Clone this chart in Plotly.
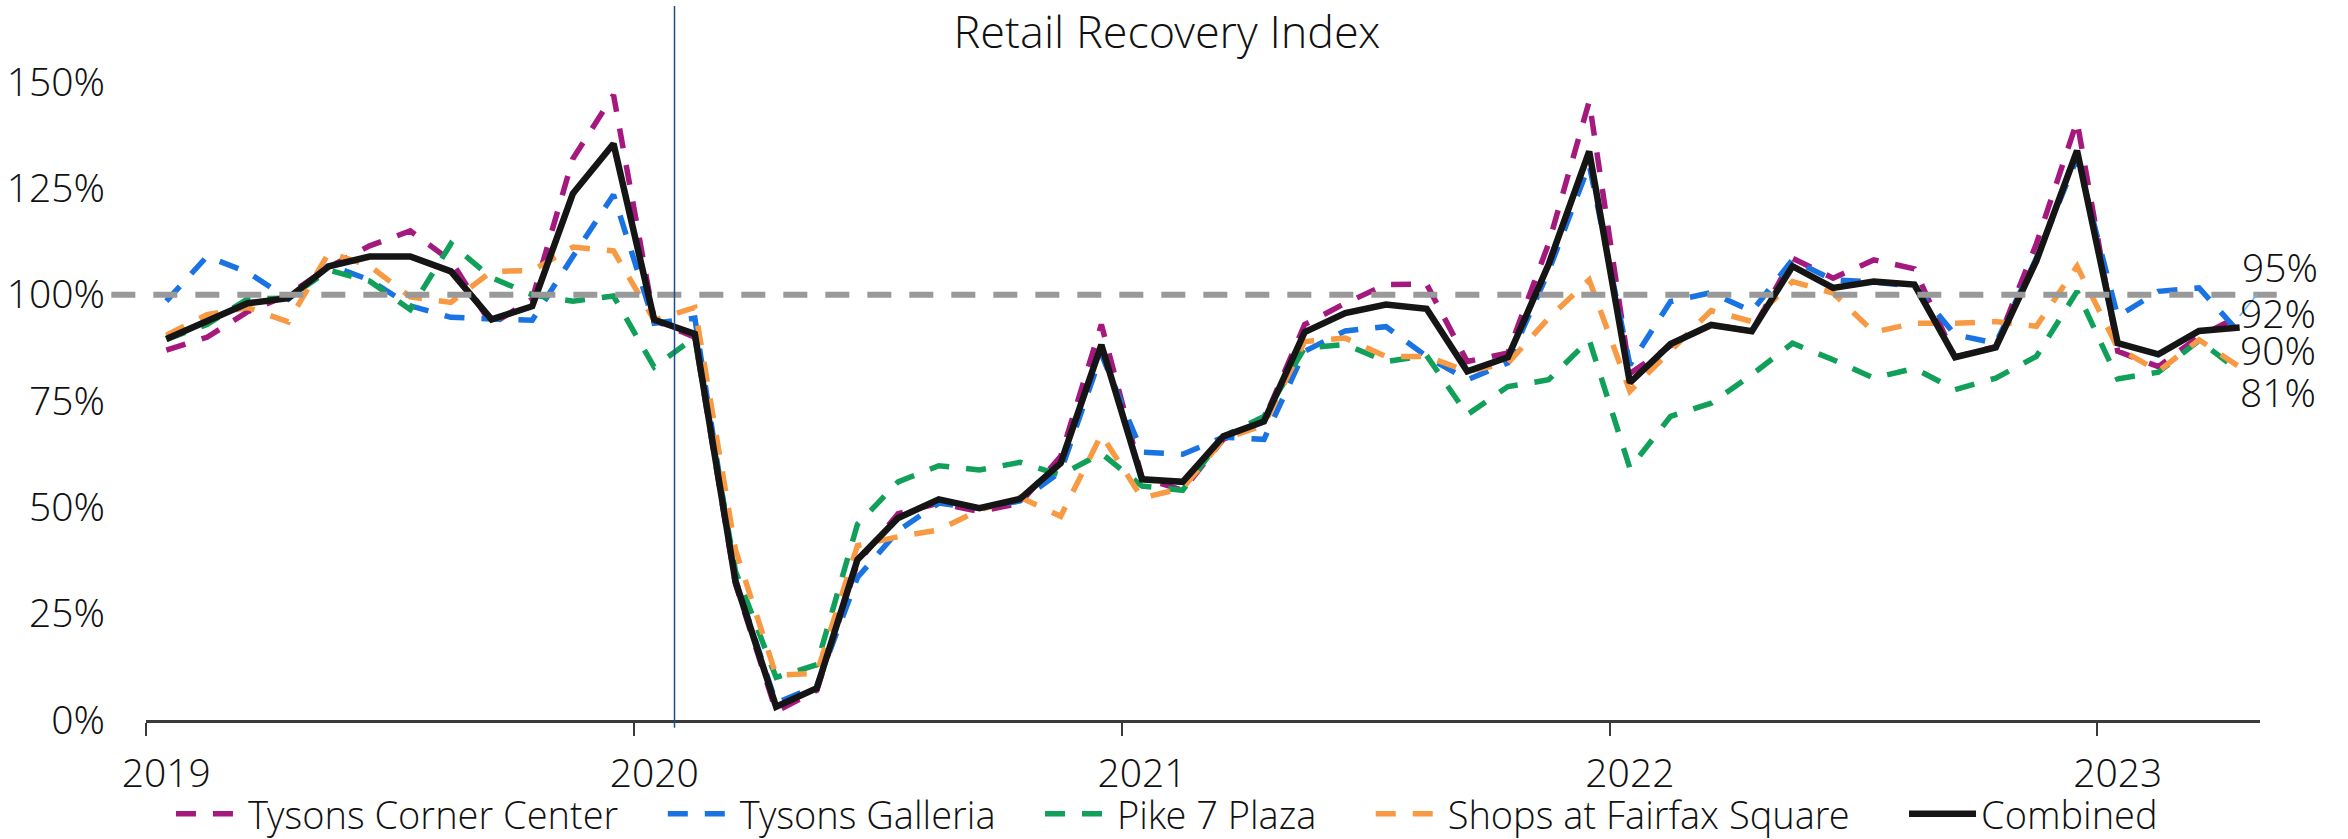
import plotly.graph_objects as go

# ---------------- data (monthly, Jan 2019 .. Apr 2023) ----------------
year_labels = ["2019", "2020", "2021", "2022", "2023"]

tysons_corner = [87, 90, 96, 100, 106.5, 111.5, 115, 108, 93, 99, 132, 147,
                 94, 90, 32, 2, 7, 37, 48.5, 51, 49, 51, 62, 93,
                 57, 54, 66, 70.5, 93, 98, 102.4, 102.5, 84.3, 86.3, 112, 145.5,
                 81.5, 88, 93, 91.4, 108.6, 103.9, 108.2, 106.1, 85.3, 87.8, 112, 140.8,
                 86.7, 83.1, 90.2, 95]
tysons_galleria = [98.5, 109, 105.3, 99, 107, 103.5, 97.4, 94.7, 94.3, 94, 109, 123.5,
                   93.3, 94.5, 33, 4, 8, 33.5, 44.5, 51, 49.8, 51.5, 58.4, 86,
                   63, 62.5, 66.5, 66, 86.7, 91.5, 92.5, 85.5, 80, 84, 105.5, 130.6,
                   83.5, 98.4, 100.5, 96.1, 108.2, 103.5, 103, 102, 90.6, 88.6, 108.6, 132.2,
                   94.9, 100.8, 101.6, 91]
pike7_plaza = [89.5, 93, 99, 99.2, 105.8, 103.2, 96.5, 112, 104, 100, 98.5, 99.7,
               83, 90, 35, 10, 13, 46, 56, 59.8, 58.8, 60.6, 57.6, 62.7,
               55, 54, 66.7, 71.4, 87.5, 88.3, 84.3, 85.7, 71.8, 78.4, 80, 89.4,
               59.2, 71.4, 74.5, 81.2, 88.6, 84.7, 80.4, 82.7, 77.7, 80.4, 85.5, 100.8,
               80.2, 81.8, 89.2, 82]
fairfax_square = [90.5, 95.3, 97, 93.6, 109.9, 106.8, 99.5, 98.2, 105.5, 105.7, 111.2, 110.3,
                  94, 97, 40, 10.5, 11, 41, 43.1, 44.7, 49.4, 52.4, 47.9, 67.1,
                  52.2, 54.5, 66, 69.4, 89, 89.8, 85.5, 85.5, 82, 83.9, 94.5, 103.5,
                  77.3, 87, 96.3, 93.7, 103.1, 100.4, 91.2, 93.3, 93.3, 93.7, 92.6, 106.7,
                  87.5, 82, 89.4, 83]
combined = [89.6, 93.9, 98, 99.2, 106.7, 109, 109, 105.5, 94.2, 97.3, 123.8, 135.5,
            94.1, 90.8, 32.6, 3.1, 7.5, 37.7, 47.5, 51.9, 49.8, 52, 60.4, 88.2,
            56.6, 56, 66.7, 70.2, 91.2, 95.7, 97.7, 96.7, 82, 85.3, 107.1, 133.7,
            79.3, 88.4, 92.9, 91.4, 106.7, 101.6, 103.1, 102.4, 85.3, 87.6, 108, 133.9,
            88.6, 86, 91.5, 92.3]

end_labels = ["95%", "92%", "90%", "81%"]   # data labels shown at the right edge
baseline_value = 1.0                         # 100% reference line
event_month = 12.5                           # vertical marker (between Jan & Feb 2020)

series = [
    ("Tysons Corner Center", tysons_corner, "#A5197F", "dash"),
    ("Tysons Galleria", tysons_galleria, "#1A73E3", "dash"),
    ("Pike 7 Plaza", pike7_plaza, "#10A05A", "dash"),
    ("Shops at Fairfax Square", fairfax_square, "#F89A44", "dash"),
    ("Combined", combined, "#151515", "solid"),
]

n = len(combined)
x = list(range(n))
FONT = "Open Sans Light, Open Sans"
TXT = "#111111"
FS = 39
GAPS = ["\u00a0" * 4, "\u00a0" * 4, "\u00a0" * 5, "\u00a0" * 5, ""]   # spacing between legend entries

fig = go.Figure()
for k, (name, vals, color, dash) in enumerate(series):
    fig.add_trace(go.Scatter(
        x=x, y=[v / 100 for v in vals],
        name=name + GAPS[k], mode="lines",
        line=dict(color=color, width=6.5 if dash == "solid" else 5.5,
                  dash="20px,17px" if dash == "dash" else "solid"),
    ))

# 100% reference line
fig.add_shape(type="line", xref="paper", yref="y", x0=-0.0164, x1=1.0079,
              y0=baseline_value, y1=baseline_value, layer="above",
              line=dict(color="#999999", width=6, dash="24px,18px"))
# vertical event marker
fig.add_shape(type="line", xref="x", yref="paper", x0=event_month, x1=event_month,
              y0=-0.011, y1=1.0, line=dict(color="#1F4E8C", width=1.5))

# end-of-series labels
last = n - 1
label_specs = [
    (tysons_corner, -50, True),
    (combined, -15, False),
    (tysons_galleria, 16, False),
    (pike7_plaza, 20, False),
]
lab_font = dict(family=FONT, size=FS, color=TXT, weight=300)
for txt, (vals, dy, leader) in zip(end_labels, label_specs):
    if leader:
        fig.add_annotation(x=last, y=vals[last] / 100, xref="x", yref="y",
                           text=txt, showarrow=True, arrowhead=0, arrowwidth=1.5,
                           arrowcolor="#6FB3F2", ax=40, ay=dy, standoff=0,
                           font=lab_font)
    else:
        fig.add_annotation(x=last, y=vals[last] / 100, xref="x", yref="y",
                           text=txt, showarrow=False, xanchor="left", xshift=-2,
                           yshift=-dy, font=lab_font)

fig.update_layout(
    width=2348, height=839, autosize=False,
    margin=dict(l=146, r=88, t=6, b=119, autoexpand=False),
    paper_bgcolor="white", plot_bgcolor="white",
    font=dict(family=FONT, size=FS, color=TXT, weight=300),
    title=dict(text="Retail Recovery Index", x=0.497, xref="container", xanchor="center",
               y=1 - 32 / 839, yref="container", yanchor="middle", automargin=False,
               font=dict(family=FONT, size=45, color=TXT, weight=300)),
    showlegend=True,
    legend=dict(orientation="h", x=0.497, xanchor="center", xref="container",
                y=25 / 839, yanchor="middle", yref="container",
                itemwidth=67, font=dict(family=FONT, size=38, color=TXT, weight=300),
                bgcolor="rgba(0,0,0,0)", traceorder="normal"),
    xaxis=dict(range=[-0.5, n - 0.5], tickvals=[12 * k for k in range(len(year_labels))],
               ticktext=year_labels, ticks="", showgrid=False, zeroline=False,
               showline=True, linecolor="#3a3a3a", linewidth=2.5, automargin=False,
               ticklabelstandoff=17,
               minor=dict(tickvals=[12 * k - 0.5 for k in range(len(year_labels))],
                          ticks="outside", ticklen=13, tickwidth=2, tickcolor="#3a3a3a",
                          showgrid=False),
               tickfont=dict(family=FONT, size=FS, color=TXT, weight=300)),
    yaxis=dict(range=[0, 1.679], tickvals=[0, 0.25, 0.5, 0.75, 1.0, 1.25, 1.5],
               tickformat=".0%", ticks="", showgrid=False, zeroline=False,
               showline=False, ticklabelstandoff=40, automargin=False,
               tickfont=dict(family=FONT, size=FS, color=TXT, weight=300)),
)

fig.write_html("out.html", config={"displayModeBar": False},
               post_script="document.body.style.margin='0';")
